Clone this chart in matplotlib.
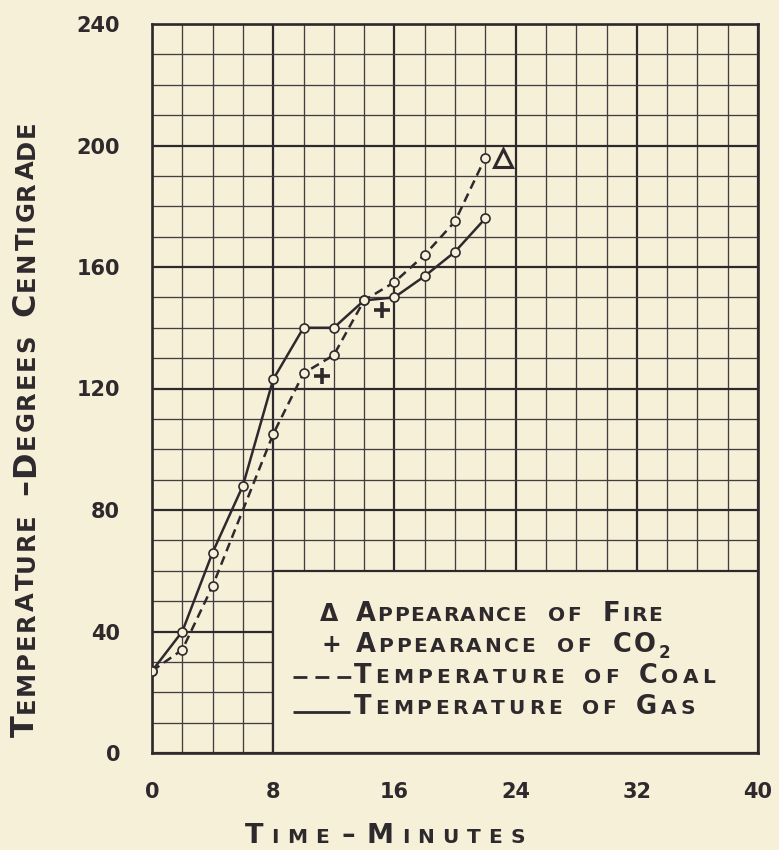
import numpy as np
import matplotlib
matplotlib.use('Agg')
import matplotlib.pyplot as plt
from matplotlib.patches import Rectangle
from matplotlib.lines import Line2D

# data
time_gas = [0, 2, 4, 6, 8, 10, 12, 14, 16, 18, 20, 22]
temp_gas = [27, 40, 66, 88, 123, 140, 140, 149, 150, 157, 165, 176]
time_coal = [0, 2, 4, 8, 10, 12, 14, 16, 18, 20, 22]
temp_coal = [27, 34, 55, 105, 125, 131, 149, 155, 164, 175, 196]
fire_time = [23.2]
fire_temp = [196]
co2_time = [11.2, 15.2]
co2_temp = [124, 146]
x_ticks = [0, 8, 16, 24, 32, 40]
y_ticks = [0, 40, 80, 120, 160, 200, 240]

paper = '#f7f0d8'
ink = '#2e292d'
W, H = 779, 850

fig = plt.figure(figsize=(W / 100, H / 100), dpi=100, facecolor=paper)
ax = fig.add_axes([152 / W, 97 / H, 606 / W, 729 / H])
ax.set_facecolor(paper)
ax.set_xlim(0, 40)
ax.set_ylim(0, 240)
ax.set_xticks(x_ticks)
ax.set_yticks(y_ticks)
ax.set_xticks(np.arange(0, 41, 2), minor=True)
ax.set_yticks(np.arange(0, 241, 10), minor=True)
ax.grid(which='major', color=ink, lw=1.6)
ax.grid(which='minor', color='#433d41', lw=0.95)
ax.tick_params(which='both', length=0)
ax.tick_params(axis='y', pad=23, labelsize=15, labelcolor=ink)
ax.tick_params(axis='x', pad=21, labelsize=15, labelcolor=ink)
for lab in ax.get_xticklabels() + ax.get_yticklabels():
    lab.set_fontweight('bold')
for s in ax.spines.values():
    s.set_linewidth(1.9)
    s.set_color(ink)

# blank box for the key (covers the grid)
ax.add_patch(Rectangle((8, 0), 32, 60, facecolor=paper, edgecolor=ink, lw=1.6, zorder=1.8))

ax.plot(time_gas, temp_gas, color=ink, lw=1.8, marker='o', ms=6.5, mfc=paper, mec=ink,
        mew=1.2, zorder=4)
ax.plot(time_coal, temp_coal, color=ink, lw=1.8, ls=(0, (3.6, 2.2)), marker='o', ms=6.5,
        mfc=paper, mec=ink, mew=1.2, zorder=4)
ax.plot(fire_time, fire_temp, ls='none', marker='^', ms=13.5, mfc='none', mec=ink, mew=2.2, zorder=5)
ax.plot(co2_time, co2_temp, ls='none', marker='+', ms=12, mew=2.6, color=ink, zorder=5)

renderer = fig.canvas.get_renderer()


def lettering(x0, x1, y, text, big, small, gap, rot=0):
    # hand-lettered look: capitals big, lower case as small capitals, spread to fit x0..x1
    items = []
    for w in text.split(' '):
        row = []
        for ch in w:
            size = small if ch.islower() else big
            t = fig.text(0, 0, ch.upper(), fontsize=size, fontweight='bold', color=ink,
                         rotation=rot, rotation_mode='anchor', ha='left', va='baseline')
            bb = t.get_window_extent(renderer)
            row.append((t, bb.width if rot == 0 else bb.height))
        items.append(row)
    nchar = sum(len(r) for r in items)
    natural = sum(wd for r in items for _, wd in r)
    track = (abs(x1 - x0) - natural - gap * (len(items) - 1)) / max(nchar - len(items), 1)
    pos = 0.0
    for r in items:
        for j, (t, wd) in enumerate(r):
            if rot == 0:
                t.set_position(((x0 + pos) / W, 1 - y / H))
            else:
                t.set_position((y / W, 1 - (x0 - pos) / H))
            pos += wd
            if j < len(r) - 1:
                pos += track
        pos += gap


# key
kb, ks = 18.5, 14.5
lettering(320, 339, 621, 'Δ', 17, 13, 0)
lettering(356, 662, 621, 'Appearance of Fire', kb, ks, 22)
lettering(322, 338, 652, '+', 17, 13, 0)
lettering(356, 656, 652, 'Appearance of CO', kb, ks, 22)
fig.text(659 / W, 1 - 658 / H, '2', fontsize=12, fontweight='bold', color=ink, ha='left', va='baseline')
fig.add_artist(Line2D([293 / W, 352 / W], [1 - 677 / H] * 2, color=ink, lw=2.0,
                      dashes=(5.0, 2.9), dash_capstyle='butt'))
lettering(354, 715, 683, 'Temperature of Coal', kb, ks, 20)
fig.add_artist(Line2D([293 / W, 350 / W], [1 - 712 / H] * 2, color=ink, lw=2.0,
                      solid_capstyle='butt'))
lettering(354, 695, 714, 'Temperature of Gas', kb, ks, 20)

# axis titles
lettering(245, 525, 843, 'Time – Minutes', 19.5, 14.5, 12)
lettering(737, 120, 34, 'Temperature –Degrees Centigrade', 23, 17.5, 18, rot=90)

fig.savefig('out.png', dpi=100, facecolor=paper)
